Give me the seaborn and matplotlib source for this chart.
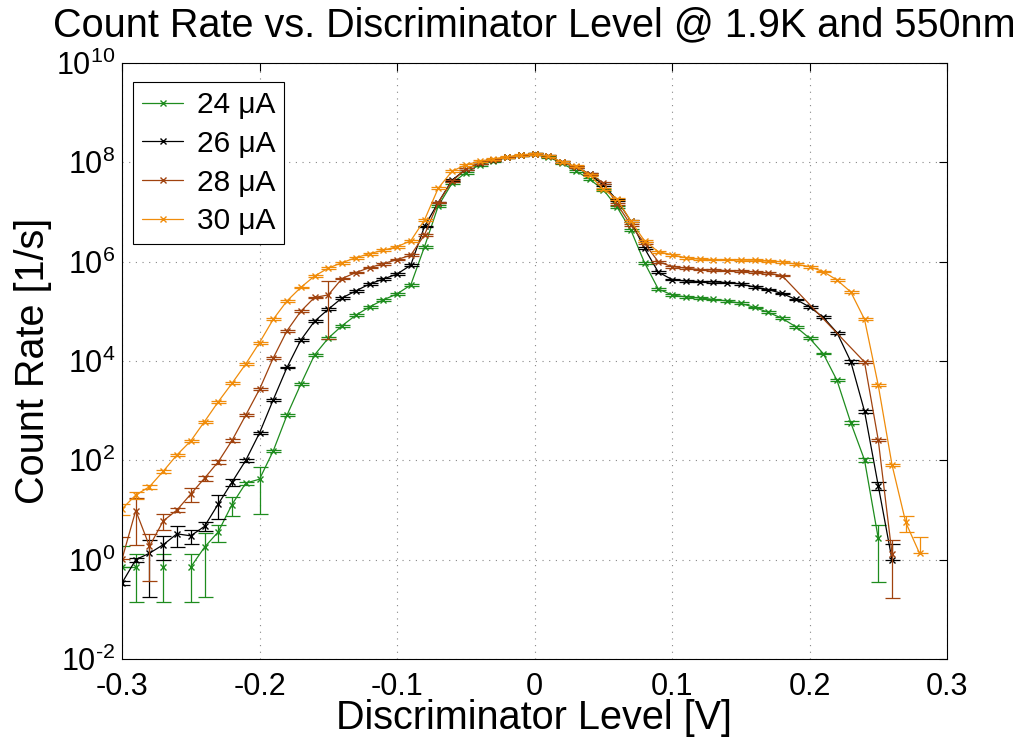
import numpy as np
import pandas as pd
import matplotlib
matplotlib.use("Agg")
import matplotlib.pyplot as plt
import seaborn as sns
from matplotlib.lines import Line2D
from matplotlib.ticker import FixedLocator, NullLocator, FuncFormatter

# ---------------- data ----------------
levels = [-0.30, -0.29, -0.28, -0.27, -0.26, -0.25, -0.24, -0.23, -0.22, -0.21,
          -0.20, -0.19, -0.18, -0.17, -0.16, -0.15, -0.14, -0.13, -0.12, -0.11,
          -0.10, -0.09, -0.08, -0.07, -0.06, -0.05, -0.04, -0.03, -0.02, -0.01,
          0.00, 0.01, 0.02, 0.03, 0.04, 0.05, 0.06, 0.07, 0.08, 0.09,
          0.10, 0.11, 0.12, 0.13, 0.14, 0.15, 0.16, 0.17, 0.18, 0.19,
          0.20, 0.21, 0.22, 0.23, 0.24, 0.25, 0.26, 0.27, 0.28]

nan = float("nan")

rate_24 = [0.71, 0.71, nan, 0.71, nan, 0.71, 1.78, 3.63, 12.9, 34.7,
           41.7, 155, 813, 3390, 13200, 28800, 51300, 83200, 1.23e5, 1.70e5,
           2.24e5, 3.39e5, 2.0e6, 1.32e7, 3.8e7, 6.17e7, 8.9e7, 1.07e8, 1.26e8, 1.38e8,
           1.45e8, 1.29e8, 9.5e7, 6.76e7, 4.57e7, 2.82e7, 1.26e7, 4.37e6, 9.55e5, 2.82e5,
           2.14e5, 1.95e5, 1.86e5, 1.74e5, 1.62e5, 1.45e5, 1.20e5, 9.55e4, 7.24e4, 4.90e4,
           2.88e4, 1.41e4, 4070, 575, 102, 2.69, nan, nan, nan]
err_24 = [1.65, 0.8, 0, 0.8, 0, 0.8, 0.9, 0.38, 0.4, 0.08,
          0.8, 0.06, 0.05, 0.04, 0.04, 0.04, 0.04, 0.04, 0.04, 0.04,
          0.04, 0.04, 0.04, 0.04, 0.04, 0.04, 0.04, 0.04, 0.04, 0.04,
          0.04, 0.04, 0.04, 0.04, 0.04, 0.04, 0.04, 0.04, 0.04, 0.04,
          0.04, 0.04, 0.04, 0.04, 0.04, 0.04, 0.04, 0.04, 0.04, 0.04,
          0.04, 0.04, 0.05, 0.06, 0.08, 0.87, 0, 0, 0]

rate_26 = [0.34, 1.0, 1.35, 2.0, 3.31, 3.02, 4.68, 13.2, 36.3, 100,
           355, 1660, 7410, 26300, 63100, 1.10e5, 1.86e5, 2.57e5, 3.55e5, 4.47e5,
           5.62e5, 8.51e5, 5.13e6, 1.55e7, 4.37e7, 7.24e7, 9.55e7, 1.12e8, 1.26e8, 1.38e8,
           1.45e8, 1.32e8, 1.0e8, 7.94e7, 5.75e7, 3.55e7, 1.74e7, 6.61e6, 1.86e6, 6.17e5,
           4.37e5, 4.07e5, 3.98e5, 3.89e5, 3.80e5, 3.55e5, 3.09e5, 2.75e5, 2.29e5, 1.74e5,
           1.23e5, 7.59e4, 3.72e4, 9770, 977, 30.9, 1.0, nan, nan]
err_26 = [0.1, 0.1, 0.87, 0.5, 0.45, 0.3, 0.2, 0.5, 0.15, 0.06,
          0.05, 0.04, 0.04, 0.04, 0.04, 0.04, 0.04, 0.04, 0.04, 0.04,
          0.04, 0.04, 0.04, 0.04, 0.04, 0.04, 0.04, 0.04, 0.04, 0.04,
          0.04, 0.04, 0.04, 0.04, 0.04, 0.04, 0.04, 0.04, 0.04, 0.04,
          0.04, 0.04, 0.04, 0.04, 0.04, 0.04, 0.04, 0.04, 0.04, 0.04,
          0.04, 0.04, 0.04, 0.05, 0.06, 0.17, 1.05, 0, 0]

levels_28 = [-0.30, -0.29, -0.28, -0.27, -0.26, -0.25, -0.24, -0.23, -0.22, -0.21,
             -0.20, -0.19, -0.18, -0.17, -0.16, -0.15, -0.14, -0.13, -0.12, -0.11,
             -0.10, -0.09, -0.08, -0.07, -0.06, -0.05, -0.04, -0.03, -0.02, -0.01,
             0.00, 0.01, 0.02, 0.03, 0.04, 0.05, 0.06, 0.07, 0.08, 0.09,
             0.10, 0.11, 0.12, 0.13, 0.14, 0.15, 0.16, 0.17, 0.18,
             0.24, 0.25, 0.26]
rate_28 = [1.02, 9.77, 1.86, 6.03, 10, 20.9, 43.6, 93.3, 251, 813,
           2690, 11500, 40700, 1.0e5, 1.90e5, 2.14e5, 4.57e5, 6.03e5, 7.59e5, 9.12e5,
           1.10e6, 1.35e6, 3.47e6, 1.55e7, 4.17e7, 7.24e7, 9.55e7, 1.12e8, 1.26e8, 1.38e8,
           1.45e8, 1.32e8, 1.0e8, 8.13e7, 5.89e7, 3.89e7, 1.45e7, 5.5e6, 2.34e6, 1.0e6,
           7.94e5, 7.41e5, 6.92e5, 6.76e5, 6.61e5, 6.46e5, 6.17e5, 5.89e5, 5.25e5,
           9550, 257, 1.32]
err_28 = [1.8, 0.8, 0.8, 0.35, 0.1, 0.3, 0.1, 0.08, 0.06, 0.05,
          0.04, 0.04, 0.04, 0.04, 0.04, 0.87, 0.04, 0.04, 0.04, 0.04,
          0.04, 0.04, 0.04, 0.04, 0.04, 0.04, 0.04, 0.04, 0.04, 0.04,
          0.04, 0.04, 0.04, 0.04, 0.04, 0.04, 0.04, 0.04, 0.04, 0.04,
          0.04, 0.04, 0.04, 0.04, 0.04, 0.04, 0.04, 0.04, 0.04,
          0.05, 0.05, 0.87]

rate_30 = [10.5, 20, 29.5, 60.3, 129, 245, 603, 1510, 3550, 8710,
           23400, 69200, 1.62e5, 3.02e5, 5.13e5, 7.41e5, 9.55e5, 1.20e6, 1.45e6, 1.70e6,
           2.0e6, 2.63e6, 6.92e6, 3.02e7, 6.61e7, 8.91e7, 1.05e8, 1.18e8, 1.29e8, 1.41e8,
           1.48e8, 1.32e8, 1.02e8, 8.32e7, 5.62e7, 2.88e7, 1.82e7, 6.61e6, 2.63e6, 1.59e6,
           1.38e6, 1.20e6, 1.12e6, 1.10e6, 1.10e6, 1.07e6, 1.07e6, 1.02e6, 1.0e6, 8.91e5,
           7.94e5, 6.31e5, 4.27e5, 2.46e5, 6.92e4, 3240, 81.3, 5.62, 1.35]
err_30 = [0.25, 0.15, 0.1, 0.08, 0.06, 0.05, 0.05, 0.04, 0.04, 0.04,
          0.04, 0.04, 0.04, 0.04, 0.04, 0.04, 0.04, 0.04, 0.04, 0.04,
          0.04, 0.04, 0.04, 0.04, 0.04, 0.04, 0.04, 0.04, 0.04, 0.04,
          0.04, 0.04, 0.04, 0.04, 0.04, 0.04, 0.04, 0.04, 0.04, 0.04,
          0.04, 0.04, 0.04, 0.04, 0.04, 0.04, 0.04, 0.04, 0.04, 0.04,
          0.04, 0.04, 0.04, 0.04, 0.05, 0.05, 0.06, 0.37, 1.15]

labels = ["24 \u03bcA", "26 \u03bcA", "28 \u03bcA", "30 \u03bcA"]
colors = ["#1e8c1e", "#000000", "#a0420e", "#f08c0a"]

x_ticks = [-0.3, -0.2, -0.1, 0.0, 0.1, 0.2, 0.3]
y_ticks = [1e-2, 1e0, 1e2, 1e4, 1e6, 1e8, 1e10]

# ---------------- style ----------------
sns.set_theme(style="white")
plt.rcParams["font.family"] = ["Liberation Sans", "DejaVu Sans"]
plt.rcParams["axes.unicode_minus"] = False
plt.rcParams["mathtext.fontset"] = "custom"
plt.rcParams["mathtext.rm"] = "Liberation Sans"
for key in ["text.color", "axes.labelcolor", "xtick.color", "ytick.color"]:
    plt.rcParams[key] = "black"

fig = plt.figure(figsize=(10.24, 7.40), dpi=100)
ax = fig.add_axes([122 / 1024, 1 - 659 / 740, 825 / 1024, 596 / 740])
ax.set_yscale("log")

series = [
    (labels[0], levels, rate_24, err_24, colors[0]),
    (labels[1], levels, rate_26, err_26, colors[1]),
    (labels[2], levels_28, rate_28, err_28, colors[2]),
    (labels[3], levels, rate_30, err_30, colors[3]),
]

for name, lv, rate, err, col in series:
    lv = np.asarray(lv, float)
    r = np.asarray(rate, float)
    e = np.asarray(err, float)
    missing = np.isnan(r)
    seg = np.cumsum(missing)
    keep = ~missing
    df = pd.DataFrame({"level": lv[keep], "rate": r[keep], "seg": seg[keep]})
    sns.lineplot(data=df, x="level", y="rate", units="seg", estimator=None,
                 color=col, marker="x", markersize=5, markeredgewidth=1.0,
                 markeredgecolor=col, linewidth=0.9, ax=ax, legend=False)
    hi = r[keep] * e[keep]
    lo = np.where(e[keep] >= 1, 0.0, hi)
    ax.errorbar(lv[keep], r[keep], yerr=[lo, hi], fmt="none", ecolor=col,
                elinewidth=0.9, capsize=5.4, capthick=0.9)


def log_label(v, pos):
    exp = int(round(np.log10(v)))
    txt = str(exp).replace("-", "\u2010")
    return "$\\mathdefault{10^{%s}}$" % txt


ax.set_xlim(-0.3, 0.3)
ax.set_ylim(1e-2, 1e10)
ax.xaxis.set_major_locator(FixedLocator(x_ticks))
ax.xaxis.set_major_formatter(FuncFormatter(lambda v, p: "%g" % round(v, 2)))
ax.yaxis.set_major_locator(FixedLocator(y_ticks))
ax.yaxis.set_major_formatter(FuncFormatter(log_label))
ax.yaxis.set_minor_locator(NullLocator())
ax.xaxis.set_minor_locator(NullLocator())
ax.tick_params(axis="both", which="major", direction="in", length=5.8, width=0.8,
               top=True, right=True, labelsize=22, colors="black")
ax.tick_params(axis="x", pad=9.5)
ax.tick_params(axis="y", pad=5)
for sp in ax.spines.values():
    sp.set_color("black")
    sp.set_linewidth(0.8)
ax.grid(True, which="major", color="#888888", linestyle=(0, (1, 5)), linewidth=0.8)

ax.set_xlabel("Discriminator Level [V]", fontsize=28.5, labelpad=-2, color="black")
ax.set_ylabel("Count Rate [1/s]", fontsize=28.5, labelpad=3, color="black")
ax.set_title("Count Rate vs. Discriminator Level @ 1.9K and 550nm", fontsize=28.5,
             pad=19, color="black")

handles = [Line2D([0], [0], color=c, lw=0.9, marker="x", markersize=5,
                  markeredgewidth=1.0) for c in colors]
leg = ax.legend(handles, labels, loc="upper left", bbox_to_anchor=(0.013, 0.968),
                borderaxespad=0, frameon=True, fancybox=False, edgecolor="black",
                framealpha=1, fontsize=21.5, handlelength=1.4, handletextpad=0.45,
                labelspacing=0.36, borderpad=0.3)
leg.get_frame().set_linewidth(0.8)
for t in leg.get_texts():
    t.set_color("black")

fig.savefig("out.png", dpi=100)
